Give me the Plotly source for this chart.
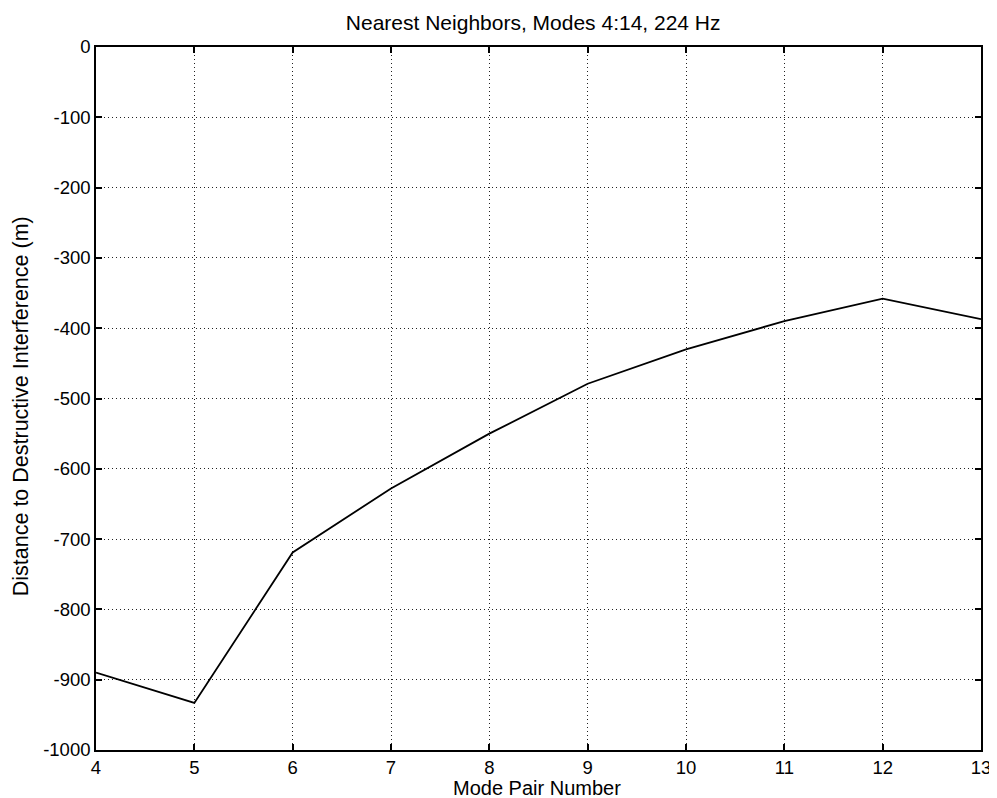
import plotly.graph_objects as go

mode_pair = [4, 5, 6, 7, 8, 9, 10, 11, 12, 13]
distance = [-890, -933, -719, -628, -550, -479, -430, -390, -358, -387]

x_ticks = [4, 5, 6, 7, 8, 9, 10, 11, 12, 13]
y_ticks = [0, -100, -200, -300, -400, -500, -600, -700, -800, -900, -1000]

fig = go.Figure()
fig.add_trace(go.Scatter(x=mode_pair, y=distance, mode="lines",
                         line=dict(color="black", width=1.8), showlegend=False))

W, H = 989, 790
font = dict(family="Liberation Sans, Arial, sans-serif", size=20, color="black")
fig.update_layout(
    width=W, height=H,
    margin=dict(l=88, r=16, t=39, b=48),
    paper_bgcolor="white", plot_bgcolor="white",
    font=font,
    title=dict(text="Nearest Neighbors, Modes 4:14, 224 Hz", xref="paper", x=0.494,
               xanchor="center", yref="container", y=1 - 14.5 / H, yanchor="middle",
               font=dict(size=21)),
    annotations=[
        dict(text="Mode Pair Number", xref="paper", yref="paper", x=0.498, y=0,
             xanchor="center", yanchor="middle", yshift=-38, showarrow=False,
             font=dict(size=20)),
        dict(text="Distance to Destructive Interference (m)", xref="paper", yref="paper",
             x=0, y=0.489, xanchor="center", yanchor="middle", xshift=-75,
             textangle=-90, showarrow=False, font=dict(size=21.5)),
    ],
)
grid_style = dict(showgrid=True, gridcolor="#222222", griddash="1px,3px", gridwidth=1,
                  showline=True, linecolor="black", linewidth=1.6, mirror="ticks",
                  ticks="inside", ticklen=6, tickwidth=1.6, tickcolor="black",
                  zeroline=False, tickfont=dict(size=18.5), automargin=False,
                  ticklabeloverflow="allow")
fig.update_xaxes(range=[4, 13], tickvals=x_ticks, ticktext=[str(v) for v in x_ticks],
                 **grid_style)
fig.update_yaxes(range=[-1000, 0], tickvals=y_ticks, ticktext=[str(v) for v in y_ticks],
                 **grid_style)

fig.write_html("out.html")
